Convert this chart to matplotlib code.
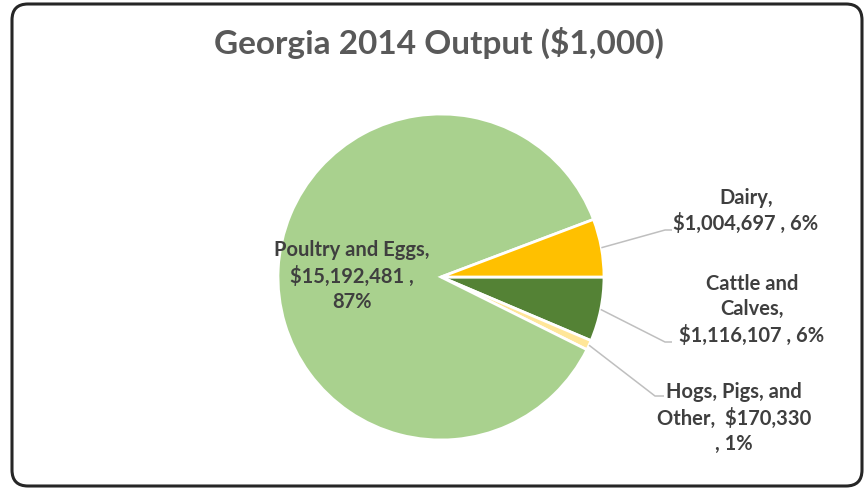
import matplotlib.pyplot as plt
from matplotlib.patches import FancyBboxPatch
import numpy as np

# Georgia 2014 farm output, thousands of dollars
categories = ['Cattle and\nCalves', 'Hogs, Pigs, and\nOther', 'Poultry and Eggs', 'Dairy']
values = [1116107, 170330, 15192481, 1004697]
colors = ['#548235', '#FFE699', '#A9D18E', '#FFC000']

W, H = 865, 489
plt.rcParams['font.family'] = ['Lato', 'DejaVu Sans']

fig = plt.figure(figsize=(W / 100, H / 100), dpi=100)
ax = fig.add_axes([0, 0, 1, 1])

# pie in pixel units, y measured upward
cx, cy, r = 441, H - 278, 163
wedges, _ = ax.pie(values, colors=colors, startangle=0, counterclock=False,
                   center=(cx, cy), radius=r,
                   wedgeprops=dict(edgecolor='white', linewidth=2))
ax.set_xlim(0, W)
ax.set_ylim(0, H)
ax.set_aspect('equal')
ax.axis('off')

total = sum(values)
pct = [round(v / total * 100) for v in values]
txt_color = '#3F3F3F'
fs = 14.5
ls = 1.32

# outside labels with leader lines: (elbow x, elbow y, line end x, text x, text y)
label_text = {
    0: 'Cattle and\nCalves,\n\\${:,} , {}%'.format(values[0], pct[0]),
    1: 'Hogs, Pigs, and\nOther,  \\${:,}\n, {}%'.format(values[1], pct[1]),
    3: 'Dairy,\n\\${:,} , {}%'.format(values[3], pct[3]),
}
leaders = {
    3: (665, 231, 672, 746, 211),
    0: (665, 343, 672, 752, 310),
    1: (655, 397, 664, 734, 418),
}
for i, (ex, ey, endx, tx, ty) in leaders.items():
    w = wedges[i]
    mid = np.deg2rad((w.theta1 + w.theta2) / 2)
    sx, sy = cx + r * np.cos(mid), cy + r * np.sin(mid)
    ax.plot([sx, ex, endx], [sy, H - ey, H - ey], color='#BFBFBF', lw=1.1,
            solid_capstyle='butt')
    ax.text(tx, H - ty, label_text[i], ha='center', va='center', fontsize=fs,
            fontweight='bold', color=txt_color, linespacing=ls)

# inside label for the largest slice
ax.text(352, H - 276, 'Poultry and Eggs,\n\\${:,} ,\n{}%'.format(values[2], pct[2]),
        ha='center', va='center', fontsize=fs, fontweight='bold',
        color=txt_color, linespacing=ls)

ax.text(439, H - 43, 'Georgia 2014 Output (\\$1,000)', ha='center', va='center',
        fontsize=24, fontweight='bold', color='#595959')

# rounded chart frame
frame = FancyBboxPatch((12, 2), 850, H - 7, boxstyle='round,pad=0,rounding_size=16',
                       facecolor='none', edgecolor='#262626', linewidth=2.2,
                       transform=ax.transData, clip_on=False)
ax.add_patch(frame)

fig.savefig('out.png', dpi=100, facecolor='white')
